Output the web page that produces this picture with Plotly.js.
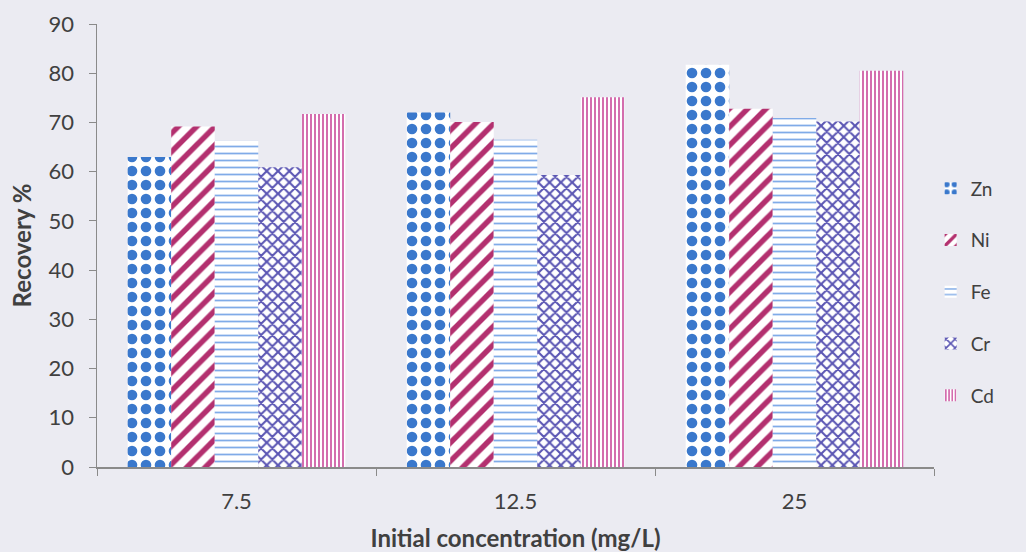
<!DOCTYPE html>
<html>
<head>
<meta charset="utf-8">
<script src="https://cdn.plot.ly/plotly-3.0.1.min.js"></script>
<style>html,body{margin:0;padding:0;background:#ebebf2;}</style>
</head>
<body>
<div id="chart" style="width:1026px;height:552px;"></div>
<script>
const categories = ["7.5", "12.5", "25"];
const zn = [63, 72, 81.7];
const ni = [69.2, 70.1, 72.8];
const fe = [66.3, 66.5, 70.9];
const cr = [60.9, 59.3, 70.2];
const cd = [71.7, 75.1, 80.5];
const seriesNames = ["Zn", "Ni", "Fe", "Cr", "Cd"];

const styles = [
  {fg: "#3a78cc", shape: ".", size: 14, solidity: 0.45},
  {fg: "#b3306f", shape: "/", size: 13, solidity: 0.42},
  {fg: "#80abe8", shape: "-", size: 7, solidity: 0.25},
  {fg: "#5a55b3", shape: "x", size: 8, solidity: 0.45},
  {fg: "#c9489a", shape: "|", size: 4, solidity: 0.4}
];
const values = [zn, ni, fe, cr, cd];

const traces = values.map((v, i) => ({
  type: "bar",
  name: seriesNames[i],
  x: categories,
  y: v,
  legendgroup: "g" + i,
  marker: {
    color: "#ffffff",
    line: {width: 0},
    pattern: {shape: styles[i].shape, fgcolor: styles[i].fg, bgcolor: "#ffffff",
              size: styles[i].size, solidity: styles[i].solidity, fillmode: "replace"}
  }
}));

const FONT = "Lato, Open Sans, Liberation Sans, sans-serif";

const layout = {
  width: 1026, height: 552,
  paper_bgcolor: "#ebebf2",
  plot_bgcolor: "rgba(0,0,0,0)",
  margin: {l: 97, r: 92, t: 24, b: 85},
  barmode: "group",
  bargap: 0.22,
  bargroupgap: 0,
  font: {family: FONT, color: "#404040"},
  xaxis: {
    type: "category",
    automargin: false,
    showline: true, linecolor: "#8a8a8a", linewidth: 1.5,
    ticks: "outside", ticklen: 7, tickcolor: "#8a8a8a",
    tickson: "boundaries",
    ticklabelstandoff: 14,
    showgrid: false,
    tickfont: {size: 22, color: "#404040", family: FONT},
    title: {text: "<b>Initial concentration (mg/L)</b>", font: {size: 24, color: "#404040", family: FONT}, standoff: 20}
  },
  yaxis: {
    range: [0, 90], dtick: 10,
    automargin: false,
    showline: true, linecolor: "#8a8a8a", linewidth: 1.5,
    ticks: "outside", ticklen: 7, tickcolor: "#8a8a8a",
    ticklabelstandoff: 10,
    showgrid: false, zeroline: false,
    tickfont: {size: 22, color: "#404040", family: FONT},
    title: {text: "<b>Recovery %</b>", font: {size: 24, color: "#404040", family: FONT}, standoff: 10}
  },
  legend: {
    x: 0.996, xanchor: "left", y: 0.395, yanchor: "middle",
    bgcolor: "rgba(0,0,0,0)",
    font: {size: 19, color: "#404040", family: FONT},
    tracegroupgap: 24,
    itemwidth: 30
  },
  showlegend: true
};

Plotly.newPlot("chart", traces, layout, {displayModeBar: false, staticPlot: true});
</script>
</body>
</html>
